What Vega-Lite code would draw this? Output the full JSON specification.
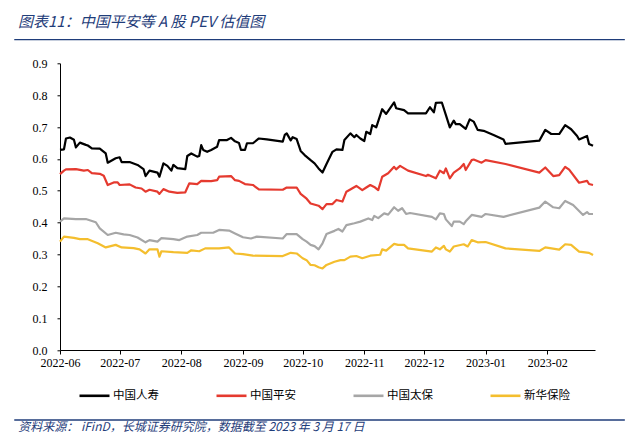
{
  "$schema": "https://vega.github.io/schema/vega-lite/v6.json",
  "width": 535,
  "height": 286.7,
  "autosize": {"type": "none"},
  "padding": {"left": 60, "top": 63.3, "right": 49, "bottom": 98},
  "background": "white",
  "config": {"view": {"stroke": null}, "axis": {"labelFont": "Liberation Serif", "labelFontSize": 12, "labelColor": "#000000", "grid": false, "domainColor": "#000000", "tickColor": "#000000", "labelOverlap": false}, "axisY": {"tickCount": 10}},
  "title": {"text": "图表11：中国平安等 A 股 PEV 估值图", "anchor": "start", "frame": "group", "dx": -42, "offset": 9, "font": "Noto Sans CJK SC", "fontSize": 15, "fontStyle": "italic", "fontWeight": "normal", "color": "#1F3D7A"},
  "datasets": {
    "deco": [{"k": 1}]
  },
  "data": {"values": [
{"d":"2022-06-01","s":"中国人寿","v":0.628},{"d":"2022-06-03","s":"中国人寿","v":0.630},{"d":"2022-06-04","s":"中国人寿","v":0.664},{"d":"2022-06-06","s":"中国人寿","v":0.667},{"d":"2022-06-08","s":"中国人寿","v":0.660},{"d":"2022-06-09","s":"中国人寿","v":0.636},{"d":"2022-06-11","s":"中国人寿","v":0.651},{"d":"2022-06-14","s":"中国人寿","v":0.644},{"d":"2022-06-15","s":"中国人寿","v":0.642},{"d":"2022-06-17","s":"中国人寿","v":0.633},{"d":"2022-06-21","s":"中国人寿","v":0.632},{"d":"2022-06-24","s":"中国人寿","v":0.617},{"d":"2022-06-25","s":"中国人寿","v":0.588},{"d":"2022-06-29","s":"中国人寿","v":0.602},{"d":"2022-07-01","s":"中国人寿","v":0.605},{"d":"2022-07-02","s":"中国人寿","v":0.590},{"d":"2022-07-06","s":"中国人寿","v":0.590},{"d":"2022-07-10","s":"中国人寿","v":0.581},{"d":"2022-07-13","s":"中国人寿","v":0.568},{"d":"2022-07-14","s":"中国人寿","v":0.546},{"d":"2022-07-16","s":"中国人寿","v":0.563},{"d":"2022-07-20","s":"中国人寿","v":0.557},{"d":"2022-07-21","s":"中国人寿","v":0.544},{"d":"2022-07-23","s":"中国人寿","v":0.586},{"d":"2022-07-25","s":"中国人寿","v":0.578},{"d":"2022-07-27","s":"中国人寿","v":0.563},{"d":"2022-07-28","s":"中国人寿","v":0.581},{"d":"2022-07-30","s":"中国人寿","v":0.571},{"d":"2022-08-03","s":"中国人寿","v":0.568},{"d":"2022-08-04","s":"中国人寿","v":0.609},{"d":"2022-08-06","s":"中国人寿","v":0.617},{"d":"2022-08-09","s":"中国人寿","v":0.607},{"d":"2022-08-10","s":"中国人寿","v":0.609},{"d":"2022-08-11","s":"中国人寿","v":0.643},{"d":"2022-08-12","s":"中国人寿","v":0.628},{"d":"2022-08-14","s":"中国人寿","v":0.622},{"d":"2022-08-16","s":"中国人寿","v":0.628},{"d":"2022-08-19","s":"中国人寿","v":0.638},{"d":"2022-08-20","s":"中国人寿","v":0.659},{"d":"2022-08-24","s":"中国人寿","v":0.659},{"d":"2022-08-26","s":"中国人寿","v":0.666},{"d":"2022-08-28","s":"中国人寿","v":0.655},{"d":"2022-08-30","s":"中国人寿","v":0.650},{"d":"2022-08-31","s":"中国人寿","v":0.628},{"d":"2022-09-02","s":"中国人寿","v":0.628},{"d":"2022-09-03","s":"中国人寿","v":0.649},{"d":"2022-09-06","s":"中国人寿","v":0.649},{"d":"2022-09-09","s":"中国人寿","v":0.664},{"d":"2022-09-13","s":"中国人寿","v":0.661},{"d":"2022-09-21","s":"中国人寿","v":0.654},{"d":"2022-09-22","s":"中国人寿","v":0.675},{"d":"2022-09-23","s":"中国人寿","v":0.680},{"d":"2022-09-25","s":"中国人寿","v":0.658},{"d":"2022-09-26","s":"中国人寿","v":0.668},{"d":"2022-09-28","s":"中国人寿","v":0.662},{"d":"2022-09-30","s":"中国人寿","v":0.625},{"d":"2022-10-02","s":"中国人寿","v":0.612},{"d":"2022-10-05","s":"中国人寿","v":0.596},{"d":"2022-10-07","s":"中国人寿","v":0.586},{"d":"2022-10-09","s":"中国人寿","v":0.570},{"d":"2022-10-11","s":"中国人寿","v":0.557},{"d":"2022-10-13","s":"中国人寿","v":0.584},{"d":"2022-10-16","s":"中国人寿","v":0.622},{"d":"2022-10-18","s":"中国人寿","v":0.630},{"d":"2022-10-21","s":"中国人寿","v":0.628},{"d":"2022-10-22","s":"中国人寿","v":0.659},{"d":"2022-10-25","s":"中国人寿","v":0.680},{"d":"2022-10-27","s":"中国人寿","v":0.668},{"d":"2022-10-28","s":"中国人寿","v":0.675},{"d":"2022-10-30","s":"中国人寿","v":0.664},{"d":"2022-11-01","s":"中国人寿","v":0.656},{"d":"2022-11-02","s":"中国人寿","v":0.685},{"d":"2022-11-04","s":"中国人寿","v":0.678},{"d":"2022-11-05","s":"中国人寿","v":0.706},{"d":"2022-11-07","s":"中国人寿","v":0.699},{"d":"2022-11-10","s":"中国人寿","v":0.756},{"d":"2022-11-12","s":"中国人寿","v":0.741},{"d":"2022-11-14","s":"中国人寿","v":0.759},{"d":"2022-11-16","s":"中国人寿","v":0.777},{"d":"2022-11-17","s":"中国人寿","v":0.759},{"d":"2022-11-21","s":"中国人寿","v":0.753},{"d":"2022-11-23","s":"中国人寿","v":0.743},{"d":"2022-12-02","s":"中国人寿","v":0.743},{"d":"2022-12-04","s":"中国人寿","v":0.762},{"d":"2022-12-06","s":"中国人寿","v":0.746},{"d":"2022-12-07","s":"中国人寿","v":0.776},{"d":"2022-12-10","s":"中国人寿","v":0.777},{"d":"2022-12-12","s":"中国人寿","v":0.738},{"d":"2022-12-14","s":"中国人寿","v":0.699},{"d":"2022-12-16","s":"中国人寿","v":0.720},{"d":"2022-12-17","s":"中国人寿","v":0.709},{"d":"2022-12-19","s":"中国人寿","v":0.709},{"d":"2022-12-22","s":"中国人寿","v":0.694},{"d":"2022-12-24","s":"中国人寿","v":0.724},{"d":"2022-12-26","s":"中国人寿","v":0.717},{"d":"2022-12-28","s":"中国人寿","v":0.691},{"d":"2022-12-31","s":"中国人寿","v":0.688},{"d":"2023-01-05","s":"中国人寿","v":0.675},{"d":"2023-01-10","s":"中国人寿","v":0.661},{"d":"2023-01-11","s":"中国人寿","v":0.647},{"d":"2023-01-28","s":"中国人寿","v":0.657},{"d":"2023-01-31","s":"中国人寿","v":0.691},{"d":"2023-02-03","s":"中国人寿","v":0.678},{"d":"2023-02-07","s":"中国人寿","v":0.678},{"d":"2023-02-10","s":"中国人寿","v":0.706},{"d":"2023-02-13","s":"中国人寿","v":0.693},{"d":"2023-02-16","s":"中国人寿","v":0.672},{"d":"2023-02-17","s":"中国人寿","v":0.661},{"d":"2023-02-21","s":"中国人寿","v":0.672},{"d":"2023-02-22","s":"中国人寿","v":0.647},{"d":"2023-02-24","s":"中国人寿","v":0.641},
{"d":"2022-06-01","s":"中国平安","v":0.552},{"d":"2022-06-03","s":"中国平安","v":0.563},{"d":"2022-06-04","s":"中国平安","v":0.567},{"d":"2022-06-09","s":"中国平安","v":0.568},{"d":"2022-06-13","s":"中国平安","v":0.563},{"d":"2022-06-15","s":"中国平安","v":0.565},{"d":"2022-06-17","s":"中国平安","v":0.555},{"d":"2022-06-21","s":"中国平安","v":0.553},{"d":"2022-06-23","s":"中国平安","v":0.547},{"d":"2022-06-25","s":"中国平安","v":0.518},{"d":"2022-06-28","s":"中国平安","v":0.526},{"d":"2022-06-30","s":"中国平安","v":0.526},{"d":"2022-07-01","s":"中国平安","v":0.518},{"d":"2022-07-06","s":"中国平安","v":0.520},{"d":"2022-07-09","s":"中国平安","v":0.510},{"d":"2022-07-12","s":"中国平安","v":0.507},{"d":"2022-07-14","s":"中国平安","v":0.497},{"d":"2022-07-16","s":"中国平安","v":0.503},{"d":"2022-07-20","s":"中国平安","v":0.497},{"d":"2022-07-21","s":"中国平安","v":0.490},{"d":"2022-07-23","s":"中国平安","v":0.505},{"d":"2022-07-26","s":"中国平安","v":0.497},{"d":"2022-07-30","s":"中国平安","v":0.493},{"d":"2022-08-03","s":"中国平安","v":0.495},{"d":"2022-08-05","s":"中国平安","v":0.523},{"d":"2022-08-09","s":"中国平安","v":0.521},{"d":"2022-08-11","s":"中国平安","v":0.531},{"d":"2022-08-16","s":"中国平安","v":0.530},{"d":"2022-08-19","s":"中国平安","v":0.533},{"d":"2022-08-20","s":"中国平安","v":0.544},{"d":"2022-08-26","s":"中国平安","v":0.546},{"d":"2022-08-28","s":"中国平安","v":0.533},{"d":"2022-08-30","s":"中国平安","v":0.531},{"d":"2022-09-02","s":"中国平安","v":0.521},{"d":"2022-09-06","s":"中国平安","v":0.518},{"d":"2022-09-09","s":"中国平安","v":0.504},{"d":"2022-09-21","s":"中国平安","v":0.503},{"d":"2022-09-23","s":"中国平安","v":0.510},{"d":"2022-09-28","s":"中国平安","v":0.510},{"d":"2022-09-30","s":"中国平安","v":0.490},{"d":"2022-10-03","s":"中国平安","v":0.475},{"d":"2022-10-05","s":"中国平安","v":0.460},{"d":"2022-10-09","s":"中国平安","v":0.453},{"d":"2022-10-11","s":"中国平安","v":0.442},{"d":"2022-10-13","s":"中国平安","v":0.458},{"d":"2022-10-16","s":"中国平安","v":0.458},{"d":"2022-10-18","s":"中国平安","v":0.471},{"d":"2022-10-21","s":"中国平安","v":0.466},{"d":"2022-10-23","s":"中国平安","v":0.497},{"d":"2022-10-28","s":"中国平安","v":0.515},{"d":"2022-10-31","s":"中国平安","v":0.502},{"d":"2022-11-02","s":"中国平安","v":0.510},{"d":"2022-11-04","s":"中国平安","v":0.518},{"d":"2022-11-06","s":"中国平安","v":0.512},{"d":"2022-11-08","s":"中国平安","v":0.502},{"d":"2022-11-10","s":"中国平安","v":0.544},{"d":"2022-11-13","s":"中国平安","v":0.555},{"d":"2022-11-16","s":"中国平安","v":0.575},{"d":"2022-11-17","s":"中国平安","v":0.567},{"d":"2022-11-19","s":"中国平安","v":0.578},{"d":"2022-11-23","s":"中国平安","v":0.563},{"d":"2022-12-02","s":"中国平安","v":0.546},{"d":"2022-12-03","s":"中国平安","v":0.550},{"d":"2022-12-07","s":"中国平安","v":0.539},{"d":"2022-12-09","s":"中国平安","v":0.563},{"d":"2022-12-11","s":"中国平安","v":0.555},{"d":"2022-12-12","s":"中国平安","v":0.570},{"d":"2022-12-14","s":"中国平安","v":0.539},{"d":"2022-12-16","s":"中国平安","v":0.557},{"d":"2022-12-19","s":"中国平安","v":0.570},{"d":"2022-12-21","s":"中国平安","v":0.584},{"d":"2022-12-22","s":"中国平安","v":0.565},{"d":"2022-12-25","s":"中国平安","v":0.596},{"d":"2022-12-26","s":"中国平安","v":0.598},{"d":"2022-12-30","s":"中国平安","v":0.588},{"d":"2023-01-01","s":"中国平安","v":0.596},{"d":"2023-01-11","s":"中国平安","v":0.584},{"d":"2023-01-28","s":"中国平安","v":0.557},{"d":"2023-01-31","s":"中国平安","v":0.573},{"d":"2023-02-04","s":"中国平安","v":0.546},{"d":"2023-02-07","s":"中国平安","v":0.549},{"d":"2023-02-10","s":"中国平安","v":0.575},{"d":"2023-02-12","s":"中国平安","v":0.566},{"d":"2023-02-17","s":"中国平安","v":0.525},{"d":"2023-02-21","s":"中国平安","v":0.531},{"d":"2023-02-22","s":"中国平安","v":0.521},{"d":"2023-02-24","s":"中国平安","v":0.518},
{"d":"2022-06-01","s":"中国太保","v":0.403},{"d":"2022-06-03","s":"中国太保","v":0.413},{"d":"2022-06-09","s":"中国太保","v":0.411},{"d":"2022-06-14","s":"中国太保","v":0.411},{"d":"2022-06-19","s":"中国太保","v":0.401},{"d":"2022-06-21","s":"中国太保","v":0.382},{"d":"2022-06-25","s":"中国太保","v":0.361},{"d":"2022-06-29","s":"中国太保","v":0.368},{"d":"2022-07-03","s":"中国太保","v":0.363},{"d":"2022-07-06","s":"中国太保","v":0.361},{"d":"2022-07-10","s":"中国太保","v":0.353},{"d":"2022-07-14","s":"中国太保","v":0.338},{"d":"2022-07-16","s":"中国太保","v":0.345},{"d":"2022-07-20","s":"中国太保","v":0.340},{"d":"2022-07-22","s":"中国太保","v":0.351},{"d":"2022-07-28","s":"中国太保","v":0.348},{"d":"2022-07-31","s":"中国太保","v":0.345},{"d":"2022-08-04","s":"中国太保","v":0.356},{"d":"2022-08-09","s":"中国太保","v":0.361},{"d":"2022-08-11","s":"中国太保","v":0.368},{"d":"2022-08-17","s":"中国太保","v":0.368},{"d":"2022-08-20","s":"中国太保","v":0.377},{"d":"2022-08-25","s":"中国太保","v":0.375},{"d":"2022-08-28","s":"中国太保","v":0.366},{"d":"2022-09-01","s":"中国太保","v":0.354},{"d":"2022-09-05","s":"中国太保","v":0.350},{"d":"2022-09-08","s":"中国太保","v":0.356},{"d":"2022-09-21","s":"中国太保","v":0.350},{"d":"2022-09-23","s":"中国太保","v":0.364},{"d":"2022-09-28","s":"中国太保","v":0.364},{"d":"2022-10-01","s":"中国太保","v":0.348},{"d":"2022-10-03","s":"中国太保","v":0.340},{"d":"2022-10-05","s":"中国太保","v":0.330},{"d":"2022-10-07","s":"中国太保","v":0.326},{"d":"2022-10-09","s":"中国太保","v":0.316},{"d":"2022-10-11","s":"中国太保","v":0.335},{"d":"2022-10-13","s":"中国太保","v":0.364},{"d":"2022-10-17","s":"中国太保","v":0.374},{"d":"2022-10-19","s":"中国太保","v":0.380},{"d":"2022-10-21","s":"中国太保","v":0.372},{"d":"2022-10-23","s":"中国太保","v":0.392},{"d":"2022-10-27","s":"中国太保","v":0.398},{"d":"2022-10-30","s":"中国太保","v":0.403},{"d":"2022-11-03","s":"中国太保","v":0.413},{"d":"2022-11-05","s":"中国太保","v":0.408},{"d":"2022-11-06","s":"中国太保","v":0.421},{"d":"2022-11-08","s":"中国太保","v":0.414},{"d":"2022-11-11","s":"中国太保","v":0.429},{"d":"2022-11-13","s":"中国太保","v":0.425},{"d":"2022-11-16","s":"中国太保","v":0.448},{"d":"2022-11-18","s":"中国太保","v":0.437},{"d":"2022-11-20","s":"中国太保","v":0.445},{"d":"2022-11-22","s":"中国太保","v":0.427},{"d":"2022-11-24","s":"中国太保","v":0.430},{"d":"2022-12-05","s":"中国太保","v":0.418},{"d":"2022-12-07","s":"中国太保","v":0.410},{"d":"2022-12-09","s":"中国太保","v":0.429},{"d":"2022-12-11","s":"中国太保","v":0.427},{"d":"2022-12-12","s":"中国太保","v":0.410},{"d":"2022-12-15","s":"中国太保","v":0.389},{"d":"2022-12-16","s":"中国太保","v":0.403},{"d":"2022-12-19","s":"中国太保","v":0.403},{"d":"2022-12-21","s":"中国太保","v":0.395},{"d":"2022-12-22","s":"中国太保","v":0.404},{"d":"2022-12-25","s":"中国太保","v":0.424},{"d":"2022-12-30","s":"中国太保","v":0.418},{"d":"2023-01-01","s":"中国太保","v":0.427},{"d":"2023-01-10","s":"中国太保","v":0.418},{"d":"2023-01-28","s":"中国太保","v":0.447},{"d":"2023-01-31","s":"中国太保","v":0.466},{"d":"2023-02-04","s":"中国太保","v":0.448},{"d":"2023-02-07","s":"中国太保","v":0.445},{"d":"2023-02-10","s":"中国太保","v":0.468},{"d":"2023-02-14","s":"中国太保","v":0.455},{"d":"2023-02-19","s":"中国太保","v":0.424},{"d":"2023-02-21","s":"中国太保","v":0.433},{"d":"2023-02-22","s":"中国太保","v":0.427},{"d":"2023-02-24","s":"中国太保","v":0.427},
{"d":"2022-06-01","s":"新华保险","v":0.340},{"d":"2022-06-03","s":"新华保险","v":0.356},{"d":"2022-06-08","s":"新华保险","v":0.352},{"d":"2022-06-11","s":"新华保险","v":0.348},{"d":"2022-06-15","s":"新华保险","v":0.348},{"d":"2022-06-20","s":"新华保险","v":0.335},{"d":"2022-06-24","s":"新华保险","v":0.322},{"d":"2022-06-29","s":"新华保险","v":0.330},{"d":"2022-07-02","s":"新华保险","v":0.322},{"d":"2022-07-08","s":"新华保险","v":0.320},{"d":"2022-07-11","s":"新华保险","v":0.316},{"d":"2022-07-14","s":"新华保险","v":0.303},{"d":"2022-07-16","s":"新华保险","v":0.316},{"d":"2022-07-20","s":"新华保险","v":0.316},{"d":"2022-07-21","s":"新华保险","v":0.293},{"d":"2022-07-22","s":"新华保险","v":0.310},{"d":"2022-07-28","s":"新华保险","v":0.307},{"d":"2022-08-04","s":"新华保险","v":0.305},{"d":"2022-08-06","s":"新华保险","v":0.313},{"d":"2022-08-10","s":"新华保险","v":0.310},{"d":"2022-08-13","s":"新华保险","v":0.319},{"d":"2022-08-20","s":"新华保险","v":0.319},{"d":"2022-08-25","s":"新华保险","v":0.322},{"d":"2022-08-28","s":"新华保险","v":0.303},{"d":"2022-09-01","s":"新华保险","v":0.301},{"d":"2022-09-06","s":"新华保险","v":0.296},{"d":"2022-09-21","s":"新华保险","v":0.295},{"d":"2022-09-25","s":"新华保险","v":0.305},{"d":"2022-09-28","s":"新华保险","v":0.303},{"d":"2022-10-01","s":"新华保险","v":0.288},{"d":"2022-10-03","s":"新华保险","v":0.282},{"d":"2022-10-05","s":"新华保险","v":0.267},{"d":"2022-10-07","s":"新华保险","v":0.266},{"d":"2022-10-09","s":"新华保险","v":0.260},{"d":"2022-10-11","s":"新华保险","v":0.256},{"d":"2022-10-13","s":"新华保险","v":0.267},{"d":"2022-10-17","s":"新华保险","v":0.277},{"d":"2022-10-20","s":"新华保险","v":0.282},{"d":"2022-10-22","s":"新华保险","v":0.282},{"d":"2022-10-25","s":"新华保险","v":0.293},{"d":"2022-10-28","s":"新华保险","v":0.295},{"d":"2022-10-31","s":"新华保险","v":0.288},{"d":"2022-11-04","s":"新华保险","v":0.296},{"d":"2022-11-09","s":"新华保险","v":0.299},{"d":"2022-11-10","s":"新华保险","v":0.316},{"d":"2022-11-12","s":"新华保险","v":0.312},{"d":"2022-11-16","s":"新华保险","v":0.333},{"d":"2022-11-18","s":"新华保险","v":0.330},{"d":"2022-11-21","s":"新华保险","v":0.330},{"d":"2022-11-23","s":"新华保险","v":0.319},{"d":"2022-12-05","s":"新华保险","v":0.309},{"d":"2022-12-07","s":"新华保险","v":0.322},{"d":"2022-12-09","s":"新华保险","v":0.316},{"d":"2022-12-11","s":"新华保险","v":0.327},{"d":"2022-12-12","s":"新华保险","v":0.316},{"d":"2022-12-14","s":"新华保险","v":0.309},{"d":"2022-12-16","s":"新华保险","v":0.325},{"d":"2022-12-21","s":"新华保险","v":0.332},{"d":"2022-12-23","s":"新华保险","v":0.325},{"d":"2022-12-25","s":"新华保险","v":0.345},{"d":"2022-12-28","s":"新华保险","v":0.338},{"d":"2023-01-01","s":"新华保险","v":0.339},{"d":"2023-01-11","s":"新华保险","v":0.319},{"d":"2023-01-28","s":"新华保险","v":0.311},{"d":"2023-01-31","s":"新华保险","v":0.322},{"d":"2023-02-07","s":"新华保险","v":0.315},{"d":"2023-02-10","s":"新华保险","v":0.332},{"d":"2023-02-13","s":"新华保险","v":0.330},{"d":"2023-02-17","s":"新华保险","v":0.309},{"d":"2023-02-22","s":"新华保险","v":0.305},{"d":"2023-02-24","s":"新华保险","v":0.298}
  ]},
  "layer": [
    {
      "mark": {"type": "line", "strokeWidth": 2.2, "strokeJoin": "round"},
      "encoding": {
        "x": {"field": "d", "type": "temporal",
          "scale": {"type": "utc", "domain": [{"year": 2022, "month": 6, "date": 1, "utc": true}, {"year": 2023, "month": 2, "date": 25, "utc": true}], "nice": false},
          "axis": {"title": null, "format": "%Y-%m", "tickCount": {"interval": "month", "step": 1}, "tickSize": 4, "labelPadding": 3, "labelFlush": false, "labelOverlap": false}},
        "y": {"field": "v", "type": "quantitative",
          "scale": {"domain": [0, 0.9], "nice": false, "zero": true},
          "axis": {"title": null, "values": [0, 0.1, 0.2, 0.3, 0.4, 0.5, 0.6, 0.7, 0.8, 0.9], "format": ".1f", "tickSize": 3, "labelPadding": 10, "labelOverlap": false}},
        "color": {"field": "s", "type": "nominal",
          "scale": {"domain": ["中国人寿", "中国平安", "中国太保", "新华保险"], "range": ["#000000", "#E53A2F", "#A6A6A6", "#F4BE2E"]},
          "legend": {"title": null, "orient": "none", "legendX": 18, "legendY": 316, "direction": "horizontal", "symbolType": "stroke", "symbolSize": 900, "symbolStrokeWidth": 2.6, "labelFont": "Noto Sans CJK SC", "labelFontSize": 11.5, "labelColor": "#000000", "labelOffset": 2, "columnPadding": 52}}
      }
    },
    {
      "data": {"name": "deco"},
      "mark": {"type": "rule", "color": "#1F3D7A", "strokeWidth": 1.3},
      "encoding": {
        "x": {"datum": {"year": 2022, "month": 5, "date": 9, "utc": true}, "type": "temporal",
          "axis": {"title": null, "format": "%Y-%m", "tickCount": {"interval": "month", "step": 1}, "tickSize": 4, "labelPadding": 3, "labelFlush": false, "labelOverlap": false}},
        "x2": {"datum": {"year": 2023, "month": 3, "date": 12, "utc": true}},
        "y": {"datum": 0.9746, "type": "quantitative",
          "axis": {"title": null, "values": [0, 0.1, 0.2, 0.3, 0.4, 0.5, 0.6, 0.7, 0.8, 0.9], "format": ".1f", "tickSize": 3, "labelPadding": 10, "labelOverlap": false}}
      }
    },
    {
      "data": {"name": "deco"},
      "mark": {"type": "rule", "color": "#1F3D7A", "strokeWidth": 1.3},
      "encoding": {
        "x": {"datum": {"year": 2022, "month": 5, "date": 9, "utc": true}, "type": "temporal",
          "axis": {"title": null, "format": "%Y-%m", "tickCount": {"interval": "month", "step": 1}, "tickSize": 4, "labelPadding": 3, "labelFlush": false, "labelOverlap": false}},
        "x2": {"datum": {"year": 2023, "month": 3, "date": 12, "utc": true}},
        "y": {"datum": -0.2197, "type": "quantitative",
          "axis": {"title": null, "values": [0, 0.1, 0.2, 0.3, 0.4, 0.5, 0.6, 0.7, 0.8, 0.9], "format": ".1f", "tickSize": 3, "labelPadding": 10, "labelOverlap": false}}
      }
    },
    {
      "data": {"name": "deco"},
      "mark": {"type": "text", "align": "left", "baseline": "middle", "font": "Noto Sans CJK SC", "fontSize": 12, "fontStyle": "italic", "color": "#1F3D7A", "text": "资料来源：  iFinD，长城证券研究院，数据截至 2023 年 3 月 17 日"},
      "encoding": {
        "x": {"datum": {"year": 2022, "month": 5, "date": 11, "utc": true}, "type": "temporal",
          "axis": {"title": null, "format": "%Y-%m", "tickCount": {"interval": "month", "step": 1}, "tickSize": 4, "labelPadding": 3, "labelFlush": false, "labelOverlap": false}},
        "y": {"datum": -0.242, "type": "quantitative",
          "axis": {"title": null, "values": [0, 0.1, 0.2, 0.3, 0.4, 0.5, 0.6, 0.7, 0.8, 0.9], "format": ".1f", "tickSize": 3, "labelPadding": 10, "labelOverlap": false}}
      }
    }
  ]
}
